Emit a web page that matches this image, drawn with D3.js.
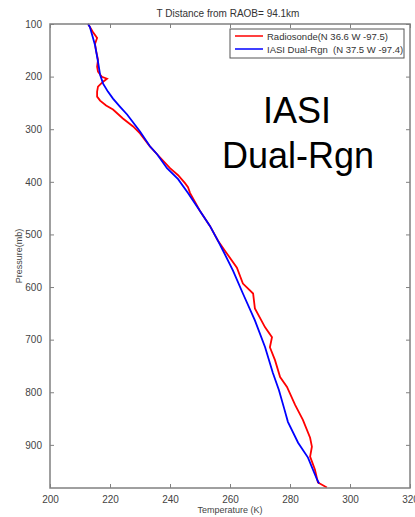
<!DOCTYPE html>
<html><head><meta charset="utf-8">
<script src="https://cdn.jsdelivr.net/npm/d3@7/dist/d3.min.js"></script>
<style>
body{margin:0;background:#fff;}
svg{display:block;font-family:"Liberation Sans",Arial,sans-serif;}
</style></head>
<body><svg id="c" width="415" height="517"></svg>
<script>
// Data (Temperature K, Pressure mb)
const radiosondeT = [212.7,213.3,214.3,215.7,215.0,215.3,216.0,215.7,216.0,217.3,219.0,217.7,216.0,215.7,215.7,216.7,218.7,221.0,224.3,227.7,230.0,233.3,235.7,240.0,242.7,245.0,246.0,246.7,250.0,253.3,256.0,258.3,262.3,264.3,267.7,268.3,271.7,274.0,273.3,275.0,276.7,279.0,281.7,284.3,286.7,287.3,286.7,288.3,289.3,292.3];
const radiosondeP = [100,105.7,115.1,126.5,137.8,149.1,168.0,181.3,190.7,200.2,204.0,209.6,219.1,228.5,238.0,245.6,255.0,262.6,279.6,294.7,307.9,332.5,347.6,374.1,387.4,402.5,410.0,421.4,455.4,483.8,512.1,531.0,563.1,593.4,612.3,640.7,676.6,695.5,714.4,739.0,771.1,790.0,824.0,852.4,886.4,903.4,922.3,946.9,971.5,981];
const iasiT = [212.7,213.3,215.0,216.0,216.7,217.7,219.3,221.0,223.3,225.7,230.0,233.3,235.7,239.0,242.7,246.0,250.0,253.3,256.0,257.7,261.0,264.3,268.3,271.7,274.3,276.3,278.0,279.3,282.7,286.0,289.0,289.7];
const iasiP = [100,105.7,139.7,171.8,196.4,213.4,228.5,241.8,256.9,272.0,304.2,332.5,347.6,374.1,394.9,421.4,455.4,483.8,512.1,531.0,568.8,612.3,663.3,714.4,763.5,795.7,829.7,856.2,895.9,924.2,965.8,973.4];
const xTicks = [200,220,240,260,280,300,320];
const yTicks = [100,200,300,400,500,600,700,800,900];
const seriesNames = ["Radiosonde(N 36.6 W -97.5)","IASI Dual-Rgn\u00a0 (N 37.5 W -97.4)"];
const seriesColors = ["#ff0000","#0000ff"];
const titleText = "T Distance from RAOB= 94.1km";

const svg = d3.select("#c");
const L=50, R=410, T=24, B=488;
const x = d3.scaleLinear().domain([200,320]).range([L,R]);
const y = d3.scaleLinear().domain([100,982]).range([T,B]);
const axisCol="#808080", labCol="#444";

// lines
const line = d3.line().x(d=>x(d[0])).y(d=>y(d[1]));
const series = [d3.zip(radiosondeT,radiosondeP), d3.zip(iasiT,iasiP)];
svg.append("path").datum(series[0]).attr("d",line).attr("fill","none").attr("stroke",seriesColors[0]).attr("stroke-width",1.8);
svg.append("path").datum(series[1]).attr("d",line).attr("fill","none").attr("stroke",seriesColors[1]).attr("stroke-width",1.8);

function styleAxis(g, showText){
  g.select(".domain").remove();
  g.selectAll(".tick line").attr("stroke",axisCol).attr("stroke-width",1);
  g.selectAll(".tick text").attr("fill",labCol).style("font-size","10px").style("font-family","Liberation Sans, Arial, sans-serif");
  if(!showText) g.selectAll(".tick text").remove();
}
svg.append("g").attr("transform",`translate(0,${B})`)
  .call(d3.axisBottom(x).tickValues(xTicks).tickSizeInner(-4).tickSizeOuter(0).tickPadding(8))
  .call(g=>styleAxis(g,true));
svg.append("g").attr("transform",`translate(0,${T})`)
  .call(d3.axisTop(x).tickValues(xTicks).tickSizeInner(-4).tickSizeOuter(0))
  .call(g=>styleAxis(g,false));
svg.append("g").attr("transform",`translate(${L},0)`)
  .call(d3.axisLeft(y).tickValues(yTicks).tickSizeInner(-4).tickSizeOuter(0).tickPadding(8))
  .call(g=>styleAxis(g,true));
svg.append("g").attr("transform",`translate(${R},0)`)
  .call(d3.axisRight(y).tickValues(yTicks).tickSizeInner(-4).tickSizeOuter(0))
  .call(g=>styleAxis(g,false));

// box
svg.append("rect").attr("x",L).attr("y",T).attr("width",R-L).attr("height",B-T)
  .attr("fill","none").attr("stroke",axisCol).attr("stroke-width",1.5);

// title
svg.append("text").attr("x",228).attr("y",17).attr("text-anchor","middle")
  .attr("fill","#333").style("font-size","10px").text(titleText);
// axis labels
svg.append("text").attr("x",230).attr("y",513).attr("text-anchor","middle")
  .attr("fill","#444").style("font-size","9px").text("Temperature (K)");
svg.append("text").attr("transform",`translate(22,${(T+B)/2}) rotate(-90)`).attr("text-anchor","middle")
  .attr("fill","#444").style("font-size","9px").text("Pressure(mb)");

// legend
const lg = svg.append("g");
lg.append("rect").attr("x",230).attr("y",29).attr("width",174).attr("height",29)
  .attr("fill","#fff").attr("stroke","#555").attr("stroke-width",1);
seriesNames.forEach((n,i)=>{
  const yy = 36 + i*13;
  lg.append("line").attr("x1",235).attr("x2",263).attr("y1",yy).attr("y2",yy)
    .attr("stroke",seriesColors[i]).attr("stroke-width",1.5);
  lg.append("text").attr("x",267).attr("y",yy+3.5).attr("fill","#333")
    .style("font-size","9.5px").text(n);
});

// annotation
svg.append("text").attr("x",297).attr("y",123).attr("text-anchor","middle")
  .style("font-size","36px").attr("fill","#000").text("IASI");
svg.append("text").attr("x",298).attr("y",168).attr("text-anchor","middle")
  .style("font-size","36px").attr("fill","#000").text("Dual-Rgn");
</script></body></html>
